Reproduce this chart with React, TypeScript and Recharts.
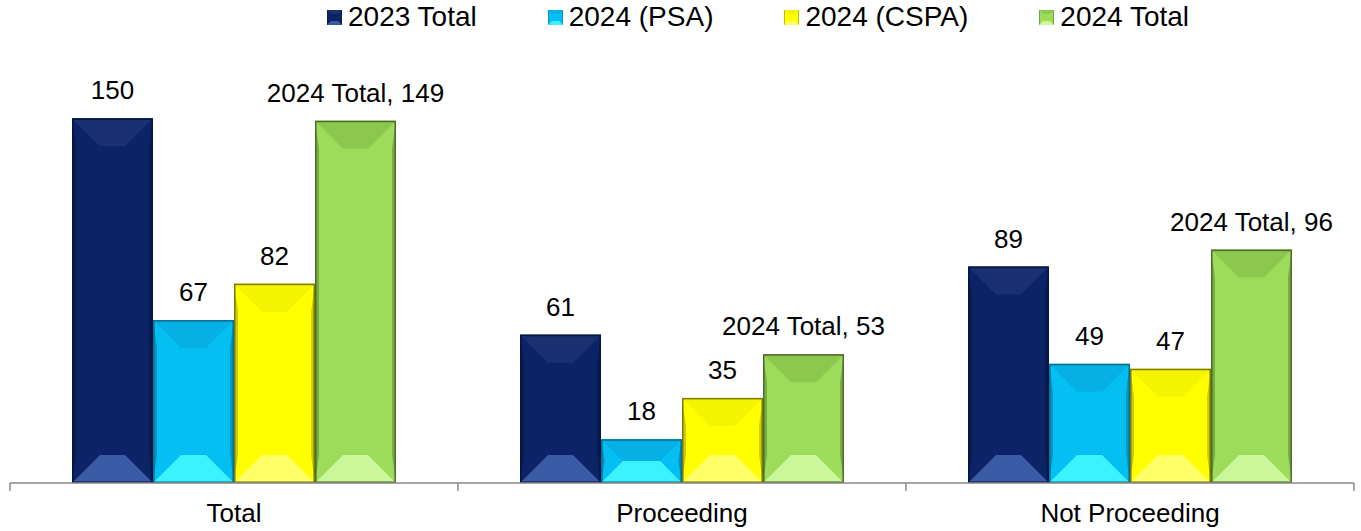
import React from "react";
import { BarChart, Bar, XAxis, YAxis, Legend, LabelList } from "recharts";

const categories = ["Total", "Proceeding", "Not Proceeding"];
const seriesNames = ["2023 Total", "2024 (PSA)", "2024 (CSPA)", "2024 Total"];
const total2023 = [150, 61, 89];
const psa2024 = [67, 18, 49];
const cspa2024 = [82, 35, 47];
const total2024 = [149, 53, 96];

const seriesKeys = ["t2023", "psa", "cspa", "t2024"];

const palette = [
  { face: "#0c2465", top: "#1a3070", bottom: "#3a5aa6", side: "#081a50", edge: "#061440" },
  { face: "#05bff2", top: "#06b0e4", bottom: "#3cf2ff", side: "#0497c8", edge: "#0a6f95" },
  { face: "#ffff00", top: "#f4f400", bottom: "#ffff66", side: "#cccc00", edge: "#7a7a10" },
  { face: "#9ddb5b", top: "#8cc84e", bottom: "#cdf89a", side: "#79ad40", edge: "#4d6b2c" },
];

const data = categories.map((name, i) => ({
  name,
  t2023: total2023[i],
  psa: psa2024[i],
  cspa: cspa2024[i],
  t2024: total2024[i],
}));

const W = 1361;
const H = 531;
const M = { top: 54, right: 7, bottom: 0, left: 10 };
const BAND = (W - M.left - M.right) / categories.length;
const FONT = "'Liberation Sans', Arial, sans-serif";

const BevelBar = (props: any) => {
  const { x, y, width: w, height: h, c } = props;
  if (!h || h <= 0) return null;
  const b = Math.min(28, h / 2);
  const s = 4;
  return (
    <g>
      <rect x={x} y={y} width={w} height={h} fill={c.face} />
      <polygon
        points={`${x},${y} ${x + s},${y + b} ${x + s},${y + h - b} ${x},${y + h}`}
        fill={c.side}
      />
      <polygon
        points={`${x + w},${y} ${x + w - s},${y + b} ${x + w - s},${y + h - b} ${x + w},${y + h}`}
        fill={c.side}
      />
      <polygon
        points={`${x},${y} ${x + w},${y} ${x + w - b},${y + b} ${x + b},${y + b}`}
        fill={c.top}
      />
      <polygon
        points={`${x},${y + h} ${x + w},${y + h} ${x + w - b},${y + h - b} ${x + b},${y + h - b}`}
        fill={c.bottom}
      />
      <rect x={x + 0.75} y={y + 0.75} width={w - 1.5} height={h - 1.5} fill="none" stroke={c.edge} strokeWidth={1.5} />
    </g>
  );
};

const AxisTick = (props: any) => {
  const { x, y, payload, index } = props;
  const half = BAND / 2;
  return (
    <g>
      <line x1={x - half} x2={x - half} y1={y - 8} y2={y} stroke="#888" strokeWidth={1.5} />
      {index === categories.length - 1 && (
        <line x1={x + half} x2={x + half} y1={y - 8} y2={y} stroke="#888" strokeWidth={1.5} />
      )}
      <text x={x} y={y} dy={31} textAnchor="middle" fontSize={26} fontFamily={FONT} fill="#000">
        {payload.value}
      </text>
    </g>
  );
};

const makeLabel = (prefix: string) => (props: any) => {
  const { x, y, width, value } = props;
  return (
    <text x={x + width / 2} y={y - 19} textAnchor="middle" fontSize={26} fontFamily={FONT} fill="#000">
      {prefix + value}
    </text>
  );
};

const LegendMarker = ({ c }: any) => (
  <svg width={15} height={15} style={{ display: "block" }}>
    <rect x={0} y={0} width={15} height={15} fill={c.face} stroke={c.edge} />
    <polygon points="0,0 15,0 11,4 4,4" fill={c.top} />
    <polygon points="0,15 15,15 11,11 4,11" fill={c.bottom} />
  </svg>
);

const renderLegend = () => (
  <div style={{ display: "flex", height: 40, paddingLeft: 327, fontFamily: FONT, fontSize: 28, lineHeight: "34px" }}>
    {seriesNames.map((n, i) => (
      <div key={n} style={{ display: "flex", alignItems: "center", marginRight: 71, height: 34 }}>
        <LegendMarker c={palette[i]} />
        <span style={{ marginLeft: 6, color: "#000" }}>{n}</span>
      </div>
    ))}
  </div>
);

export default function App() {
  return (
    <div style={{ position: "absolute", left: 0, top: 0, background: "#fff" }}>
      <BarChart width={W} height={H} data={data} margin={M} barGap={0} barCategoryGap={61}>
        <Legend verticalAlign="top" content={renderLegend} wrapperStyle={{ top: 0, left: 0, width: W, height: 40 }} />
        <XAxis
          dataKey="name"
          height={48}
          axisLine={{ stroke: "#888", strokeWidth: 1.5 }}
          tickLine={false}
          tick={<AxisTick />}
          interval={0}
        />
        <YAxis hide domain={[0, 160]} />
        {seriesKeys.map((k, i) => (
          <Bar
            key={k}
            dataKey={k}
            name={seriesNames[i]}
            barSize={81}
            isAnimationActive={false}
            shape={(p: any) => <BevelBar {...p} c={palette[i]} />}
          >
            <LabelList dataKey={k} content={makeLabel(k === "t2024" ? "2024 Total, " : "")} />
          </Bar>
        ))}
      </BarChart>
    </div>
  );
}
